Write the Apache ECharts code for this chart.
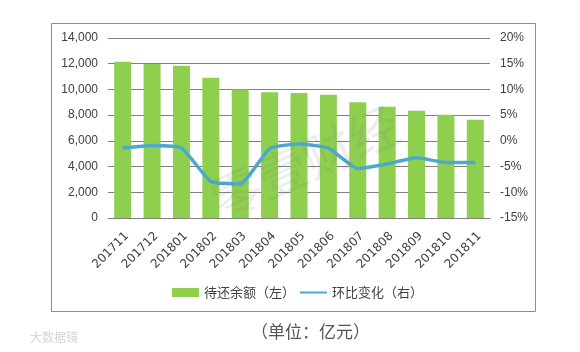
<!DOCTYPE html>
<html lang="en">
<head>
    <meta charset="utf-8">
    <title>待还余额</title>
    <script src="https://cdn.jsdelivr.net/npm/echarts@6/dist/echarts.min.js"></script>
    <style>
        html, body { margin: 0; padding: 0; background: #fff; }
        #main { width: 580px; height: 352px; }
    </style>
</head>
<body>
<div id="main"></div>
<script>
    const months = ['201711', '201712', '201801', '201802', '201803', '201804', '201805',
        '201806', '201807', '201808', '201809', '201810', '201811'];
    const balance = [12150, 11980, 11840, 10910, 10000, 9790, 9730, 9590, 9010, 8650, 8340, 8030, 7640];
    const change = [-1.4, -0.9, -1.4, -7.9, -8.4, -1.5, -0.6, -1.4, -5.4, -4.5, -3.3, -4.2, -4.2];
    const barName = '待还余额（左）';
    const lineName = '环比变化（右）';
    const fontName = '"Noto Sans CJK SC", sans-serif';
    const labelFont = '"Liberation Sans", sans-serif';
    const lineColor = '#4aa9cf';

    let myChart = echarts.init(document.getElementById('main'), null, { renderer: 'canvas' });
    let option = {
        animation: false,
        backgroundColor: '#fff',
        textStyle: { fontFamily: fontName, color: '#404040' },
        grid: { left: 108, right: 90, top: 38, height: 180 },
        legend: {
            left: 167,
            top: 281,
            itemGap: 5,
            itemWidth: 27,
            itemHeight: 9,
            textStyle: { fontSize: 13, color: '#404040', fontFamily: fontName },
            data: [
                { name: barName, icon: 'rect' },
                // zero length subpaths keep the stroke thin inside the icon box
                { name: lineName, icon: 'path://M0,0L0,0M0,3.5H27V5.5H0ZM0,9L0,9' }
            ]
        },
        xAxis: {
            type: 'category',
            data: months,
            axisLine: { lineStyle: { color: '#808080', width: 1 } },
            axisTick: { show: false },
            axisLabel: {
                rotate: 45,
                margin: 12,
                interval: 0,
                fontSize: 12,
                align: 'right',
                verticalAlign: 'top',
                color: '#404040',
                fontFamily: '"DejaVu Sans", sans-serif'
            }
        },
        yAxis: [{
            type: 'value',
            min: 0,
            max: 14000,
            interval: 2000,
            axisLine: { show: false },
            axisTick: { show: false },
            splitLine: { lineStyle: { color: '#808080', width: 1 } },
            axisLabel: {
                margin: 10,
                fontSize: 12,
                color: '#404040',
                fontFamily: labelFont,
                formatter: function (v) { return v.toLocaleString('en-US'); }
            }
        }, {
            type: 'value',
            min: -15,
            max: 20,
            interval: 5,
            axisLine: { show: false },
            axisTick: { show: false },
            splitLine: { show: false },
            axisLabel: { margin: 10, fontSize: 12, color: '#404040', fontFamily: labelFont, formatter: '{value}%' }
        }],
        series: [{
            name: barName,
            type: 'bar',
            data: balance,
            barWidth: 17,
            itemStyle: { color: '#8fcf4e' }
        }, {
            name: lineName,
            type: 'line',
            yAxisIndex: 1,
            data: change,
            smooth: 0.15,
            showSymbol: false,
            lineStyle: { color: lineColor, width: 3.5 },
            itemStyle: { color: lineColor }
        }],
        graphic: [
            // chart frame
            {
                type: 'rect',
                z: -1,
                shape: { x: 51.5, y: 23.5, width: 484, height: 288 },
                style: { fill: '#fff', stroke: '#8c8c8c', lineWidth: 1 }
            },
            // unit note under the frame
            {
                type: 'text',
                left: 251,
                top: 323,
                style: { text: '（单位：亿元）', font: '17px "Noto Sans CJK SC"', fill: '#555' }
            },
            // watermark across the plot
            {
                type: 'text',
                x: 305,
                y: 162,
                rotation: 0.42,
                z: 100,
                style: {
                    text: '零壹财经',
                    font: '50px "Noto Sans CJK SC"',
                    fill: 'rgba(120,130,120,0.14)',
                    align: 'center',
                    verticalAlign: 'middle'
                }
            },
            // picture credit, bottom left
            {
                type: 'text',
                left: 30,
                top: 331,
                style: { text: '大数据镜', font: '12px "Noto Sans CJK SC"', fill: '#d4d4d4' }
            }
        ]
    };
    myChart.setOption(option);
</script>
</body>
</html>
